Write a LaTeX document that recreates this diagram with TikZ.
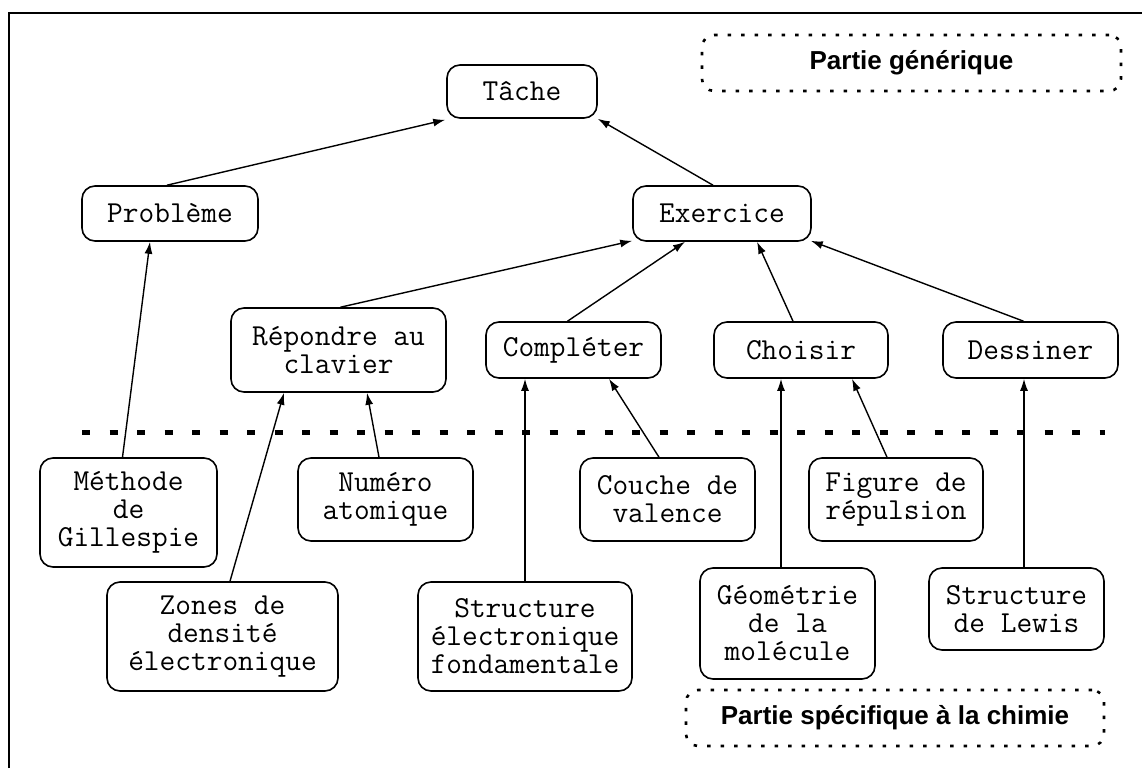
\documentclass[tikz,border=0pt]{standalone}
\usepackage{fontspec}
\newfontfamily\labfont{Liberation Sans}
\usetikzlibrary{arrows.meta}
\begin{document}
\begin{tikzpicture}[x=1pt,y=-1pt,
  box/.style={draw, line width=1.6pt, rounded corners=13pt, align=center, inner sep=0pt,
    font=\ttfamily\fontsize{30.5}{28}\selectfont},
  tag/.style={draw, line width=2.6pt, dash pattern=on 3.5pt off 10pt, rounded corners=12pt,
    inner sep=0pt, font=\labfont\bfseries\fontsize{26}{28}\selectfont},
  arr/.style={line width=1.4pt, -{Latex[length=12pt,width=8pt]}},
  frame/.style={line width=2pt},
  sep/.style={line width=5pt, dash pattern=on 8pt off 19.5pt}
]
\useasboundingbox (0,0) rectangle (1142,768);

% frame (only top and left edges visible)
\coordinate (fbl) at (9,768);
\coordinate (ftl) at (9,13);
\coordinate (ftr) at (1142,13);
\draw[frame] (fbl) -- (ftl) -- (ftr);

% separator
\coordinate (sepL) at (82,432);
\coordinate (sepR) at (1105,432);
\draw[sep] (sepL) -- (sepR);

% labels
\node[tag, minimum width=419pt, minimum height=56pt] (generique) at (911.5,63) {Partie générique};
\node[tag, minimum width=418pt, minimum height=56pt] (specifique) at (895,718) {Partie spécifique à la chimie};

% generic part
\node[box, minimum width=150pt, minimum height=53pt] (tache) at (522,91.5) {Tâche};
\node[box, minimum width=176pt, minimum height=55pt] (probleme) at (170,213.5) {Problème};
\node[box, minimum width=178pt, minimum height=55pt] (exercice) at (722,213.5) {Exercice};
\node[box, minimum width=215pt, minimum height=84pt] (repondre) at (338.5,350) {Répondre au\\clavier};
\node[box, minimum width=175pt, minimum height=56pt] (completer) at (573.5,350) {Compléter};
\node[box, minimum width=174pt, minimum height=56pt] (choisir) at (801,350) {Choisir};
\node[box, minimum width=175pt, minimum height=56pt] (dessiner) at (1030.5,350) {Dessiner};

% chemistry part
\node[box, minimum width=177pt, minimum height=109pt] (methode) at (128.5,512.5) {Méthode\\de\\Gillespie};
\node[box, minimum width=175pt, minimum height=83pt] (numero) at (385.5,499.5) {Numéro\\atomique};
\node[box, minimum width=175pt, minimum height=83pt] (couche) at (667.5,499.5) {Couche de\\valence};
\node[box, minimum width=174pt, minimum height=83pt] (figure) at (896,499.5) {Figure de\\répulsion};
\node[box, minimum width=231pt, minimum height=109pt] (zones) at (222.5,636.5) {Zones de\\densité\\électronique};
\node[box, minimum width=214pt, minimum height=109pt] (structelec) at (525,636.5) {Structure\\électronique\\fondamentale};
\node[box, minimum width=175pt, minimum height=111pt] (geometrie) at (787.5,623.5) {Géométrie\\de la\\molécule};
\node[box, minimum width=175pt, minimum height=82pt] (lewis) at (1016.5,609) {Structure\\de Lewis};

% connectors
\draw[arr] ([xshift=-3pt]probleme.north) -- ([xshift=-1pt,yshift=-1pt]tache.south west);
\draw[arr] ([xshift=-9pt]exercice.north) -- (tache.south east);
\draw[arr] ([xshift=-6pt]methode.north) -- ([xshift=-20pt]probleme.south);
\draw[arr] ([xshift=2pt]repondre.north) -- ([yshift=1pt]exercice.south west);
\draw[arr] ([xshift=-6pt]completer.north) -- ([xshift=-37pt]exercice.south);
\draw[arr] ([xshift=-8pt]choisir.north) -- ([xshift=35pt]exercice.south);
\draw[arr] ([xshift=-7pt]dessiner.north) -- ([xshift=-1pt,yshift=1pt]exercice.south east);
\draw[arr] ([xshift=7.5pt]zones.north) -- ([xshift=-54.5pt]repondre.south);
\draw[arr] ([xshift=-6.5pt]numero.north) -- ([xshift=28.5pt]repondre.south);
\draw[arr] (structelec.north) -- (structelec.north |- completer.south);
\draw[arr] ([xshift=-8.5pt]couche.north) -- ([xshift=35.5pt]completer.south);
\draw[arr] ([xshift=-6.5pt]geometrie.north) -- ([xshift=-6.5pt]geometrie.north |- choisir.south);
\draw[arr] ([xshift=-9pt]figure.north) -- ([xshift=51pt]choisir.south);
\draw[arr] ([xshift=7.5pt]lewis.north) -- ([xshift=7.5pt]lewis.north |- dessiner.south);
\end{tikzpicture}
\end{document}
